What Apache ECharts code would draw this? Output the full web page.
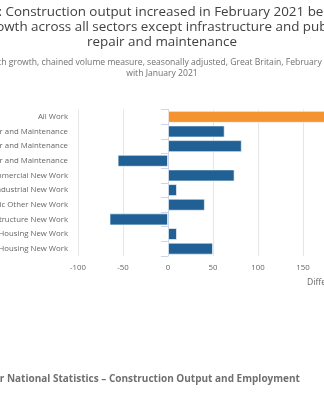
<!DOCTYPE html>
<html>
<head>
<meta charset="utf-8">
<script src="https://cdn.jsdelivr.net/npm/echarts@6/dist/echarts.min.js"></script>
<style>
html,body{margin:0;padding:0;background:#fff;overflow:hidden;width:324px;height:400px;}
#chart{position:absolute;left:-98px;top:0;width:520px;height:400px;}
</style>
</head>
<body>
<div id="chart"></div>
<script>
// Data (bottom-to-top order as on a category axis)
const categories = [
  "Public Housing New Work",
  "Private Housing New Work",
  "Infrastructure New Work",
  "Public Other New Work",
  "Private Industrial New Work",
  "Private Commercial New Work",
  "Public Housing Repair and Maintenance",
  "Private Housing Repair and Maintenance",
  "Non-housing Repair and Maintenance",
  "All Work"
];
const values = [50, 10, -65, 41, 10, 74, -56, 82, 63, 209];
const highlightCategory = "All Work";
const xTicks = [-100, -50, 0, 50, 100, 150, 200, 250];

const titleText = "Figure 3: Construction output increased in February 2021 because of\ngrowth across all sectors except infrastructure and public\nrepair and maintenance";
const subtitleText = "Month-on-month growth, chained volume measure, seasonally adjusted, Great Britain, February 2021 compared\nwith January 2021";
const sourceText = "Source: Office for National Statistics – Construction Output and Employment";
const axisTitle = "Difference (£ million)";

const chart = echarts.init(document.getElementById('chart'), null, {renderer: 'canvas'});
const FONT = "'Open Sans', sans-serif";
chart.setOption({
  animation: false,
  grid: {left: 176, right: 29, top: 109.5, bottom: 144, containLabel: false, outerBoundsMode: 'none'},
  xAxis: {
    type: 'value',
    min: xTicks[0],
    max: xTicks[xTicks.length - 1],
    interval: 50,
    axisLine: {show: false},
    axisTick: {show: false},
    splitLine: {show: true, lineStyle: {color: '#e6e6e6', width: 1}},
    axisLabel: {fontFamily: FONT, fontSize: 7.8, color: '#666666', margin: 8}
  },
  yAxis: {
    type: 'category',
    data: categories,
    axisLine: {show: true, lineStyle: {color: '#ccd6eb', width: 1}},
    axisTick: {show: true, length: 7, lineStyle: {color: '#ccd6eb'}},
    axisLabel: {fontFamily: FONT, fontSize: 7.8, color: '#666666', margin: 10}
  },
  series: [{
    type: 'bar',
    barCategoryGap: '18%',
    data: values.map((v, i) => ({
      value: v,
      itemStyle: {color: categories[i] === highlightCategory ? '#F39431' : '#206095'}
    })),
    itemStyle: {borderColor: 'rgba(255,255,255,0.6)', borderWidth: 1}
  }],
  graphic: [
    {type: 'text', x: 260, y: 5, style: {text: titleText, font: "13.4px 'Open Sans', sans-serif", fill: '#414042', align: 'center', lineHeight: 14.8}},
    {type: 'text', x: 260, y: 57, style: {text: subtitleText, font: "8.6px 'Open Sans', sans-serif", fill: '#707071', align: 'center', lineHeight: 11}},
    {type: 'text', x: 405, y: 278, style: {text: axisTitle, font: "8.6px 'Open Sans', sans-serif", fill: '#666666'}},
    {type: 'text', x: 16, y: 374, style: {text: sourceText, font: "bold 10px 'Open Sans', sans-serif", fill: '#707071'}}
  ]
});
</script>
</body>
</html>
